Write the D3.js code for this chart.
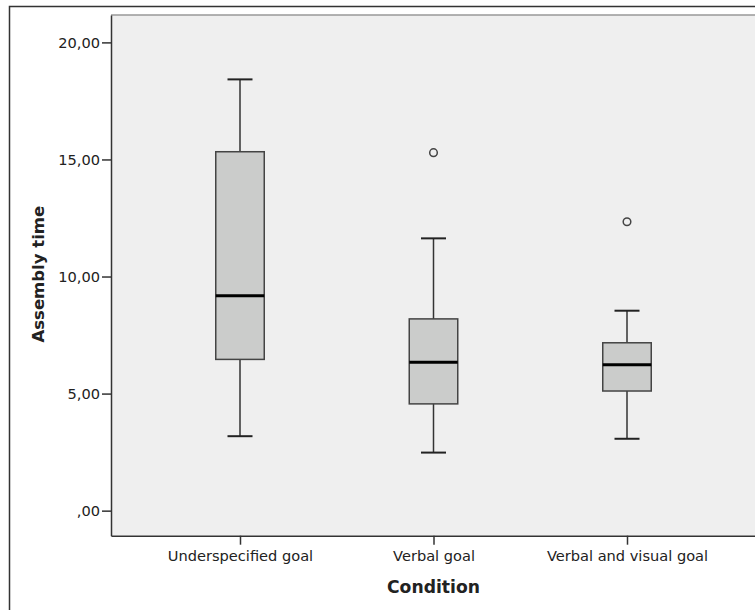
<!DOCTYPE html>
<html>
<head>
<meta charset="utf-8">
<script src="https://cdn.jsdelivr.net/npm/d3@7"></script>
<style>
  body { margin: 0; background: #fff; }
  svg { display: block; font-family: "DejaVu Sans", sans-serif; }
</style>
</head>
<body>
<svg id="chart" width="755" height="610"></svg>
<script>
// box plot values
var categories = ["Underspecified goal", "Verbal goal", "Verbal and visual goal"];
var whiskerLow  = [3.18, 2.48, 3.07];
var q1          = [6.46, 4.56, 5.11];
var median      = [9.18, 6.34, 6.23];
var q3          = [15.33, 8.19, 7.17];
var whiskerHigh = [18.42, 11.63, 8.54];
var outliers    = [[], [15.29], [12.34]];
var yTicks      = [0, 5, 10, 15, 20];

var plot = { left: 111, top: 15, right: 756, bottom: 535.7 };

var svg = d3.select("#chart");

// outer frame
svg.append("rect")
  .attr("x", 9.5).attr("y", 6.5)
  .attr("width", 800).attr("height", 700)
  .attr("fill", "#fff")
  .attr("stroke", "#333")
  .attr("stroke-width", 1.5);

var y = d3.scaleLinear()
  .domain([-1.07, 21.17])
  .range([plot.bottom, plot.top]);

var x = d3.scalePoint()
  .domain(categories)
  .range([plot.left, plot.right])
  .padding(2 / 3);

var boxW = 48.5, capW = 25;

// plot background
svg.append("rect")
  .attr("x", plot.left).attr("y", plot.top)
  .attr("width", plot.right - plot.left)
  .attr("height", plot.bottom - plot.top)
  .attr("fill", "#efefef")
  .attr("stroke", "none");
svg.append("line")
  .attr("x1", plot.left).attr("x2", plot.right)
  .attr("y1", plot.top).attr("y2", plot.top)
  .attr("stroke", "#999").attr("stroke-width", 1.5);

// axes
var yAxis = d3.axisLeft(y)
  .tickValues(yTicks)
  .tickSizeInner(9)
  .tickSizeOuter(0)
  .tickPadding(2)
  .tickFormat(function (d) { return d === 0 ? ",00" : d3.format(".2f")(d).replace(".", ","); });
var gy = svg.append("g")
  .attr("transform", "translate(" + plot.left + ",0)")
  .call(yAxis);

var xAxis = d3.axisBottom(x)
  .tickSizeInner(9)
  .tickSizeOuter(0)
  .tickPadding(6);
var gx = svg.append("g")
  .attr("transform", "translate(0," + plot.bottom + ")")
  .call(xAxis);

[gy, gx].forEach(function (g) {
  g.select(".domain").attr("stroke", "#333").attr("stroke-width", 1.5);
  g.selectAll(".tick line").attr("stroke", "#333").attr("stroke-width", 1.5);
  g.selectAll(".tick text")
    .attr("fill", "#222")
    .style("font-family", "DejaVu Sans, sans-serif")
    .style("font-size", "14.6px");
});

// boxes
var idx = d3.range(categories.length);
var boxes = svg.append("g").selectAll("g")
  .data(idx)
  .enter().append("g");

boxes.append("line")
  .attr("x1", function (i) { return x(categories[i]); })
  .attr("x2", function (i) { return x(categories[i]); })
  .attr("y1", function (i) { return y(whiskerLow[i]); })
  .attr("y2", function (i) { return y(whiskerHigh[i]); })
  .attr("stroke", "#333").attr("stroke-width", 1.5);

boxes.selectAll(".cap")
  .data(function (i) { return [[i, whiskerLow[i]], [i, whiskerHigh[i]]]; })
  .enter().append("line")
  .attr("class", "cap")
  .attr("x1", function (d) { return x(categories[d[0]]) - capW / 2; })
  .attr("x2", function (d) { return x(categories[d[0]]) + capW / 2; })
  .attr("y1", function (d) { return y(d[1]); })
  .attr("y2", function (d) { return y(d[1]); })
  .attr("stroke", "#222").attr("stroke-width", 2);

boxes.append("rect")
  .attr("x", function (i) { return x(categories[i]) - boxW / 2; })
  .attr("y", function (i) { return y(q3[i]); })
  .attr("width", boxW)
  .attr("height", function (i) { return y(q1[i]) - y(q3[i]); })
  .attr("fill", "#cbcccb")
  .attr("stroke", "#444").attr("stroke-width", 1.5);

boxes.append("line")
  .attr("x1", function (i) { return x(categories[i]) - boxW / 2; })
  .attr("x2", function (i) { return x(categories[i]) + boxW / 2; })
  .attr("y1", function (i) { return y(median[i]); })
  .attr("y2", function (i) { return y(median[i]); })
  .attr("stroke", "#000").attr("stroke-width", 3);

boxes.selectAll("circle")
  .data(function (i) { return outliers[i].map(function (v) { return [i, v]; }); })
  .enter().append("circle")
  .attr("cx", function (d) { return x(categories[d[0]]); })
  .attr("cy", function (d) { return y(d[1]); })
  .attr("r", 3.8)
  .attr("fill", "none")
  .attr("stroke", "#444").attr("stroke-width", 1.5);

// axis titles
svg.append("text")
  .attr("x", x(categories[1]))
  .attr("y", 592.5)
  .attr("text-anchor", "middle")
  .style("font-size", "17.2px")
  .style("font-weight", "bold")
  .attr("fill", "#222")
  .text("Condition");

svg.append("text")
  .attr("transform", "translate(44," + y(10.1) + ") rotate(-90)")
  .attr("text-anchor", "middle")
  .style("font-size", "16.5px")
  .style("font-weight", "bold")
  .attr("fill", "#222")
  .text("Assembly time");
</script>
</body>
</html>
